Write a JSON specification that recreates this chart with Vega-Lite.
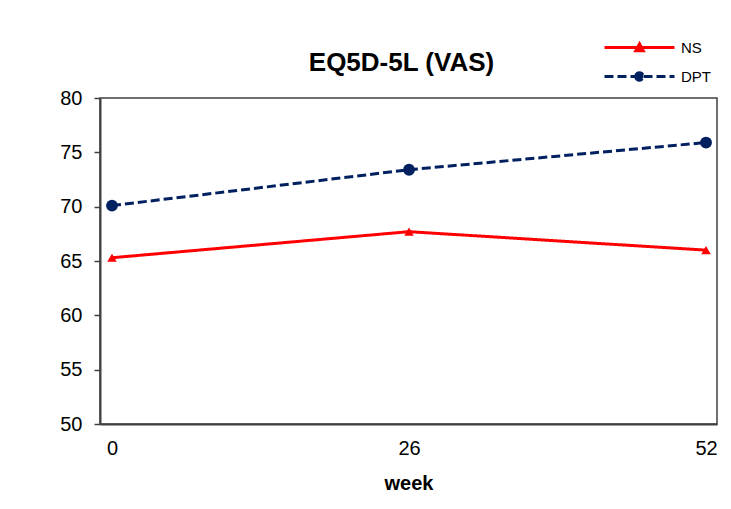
{
  "$schema": "https://vega.github.io/schema/vega-lite/v6.json",
  "width": 617,
  "height": 326,
  "autosize": "none",
  "padding": {"left": 100, "top": 98, "right": 14, "bottom": 85},
  "background": "white",
  "config": {
    "view": {"stroke": "#404040", "strokeWidth": 1.5},
    "font": "Liberation Sans"
  },
  "title": {
    "text": "EQ5D-5L (VAS)",
    "font": "Liberation Sans",
    "fontSize": 26,
    "fontWeight": "bold",
    "color": "black",
    "anchor": "middle",
    "frame": "group",
    "offset": -45,
    "dx": -7
  },
  "data": {
    "values": [
      {"week": 0, "series": "NS", "vas": 65.3},
      {"week": 26, "series": "NS", "vas": 67.7},
      {"week": 52, "series": "NS", "vas": 66.0},
      {"week": 0, "series": "DPT", "vas": 70.1},
      {"week": 26, "series": "DPT", "vas": 73.4},
      {"week": 52, "series": "DPT", "vas": 75.9}
    ]
  },
  "encoding": {
    "x": {
      "field": "week",
      "type": "quantitative",
      "scale": {"domain": [-1.05, 52.96], "nice": false, "zero": false},
      "axis": {
        "values": [0, 26, 52],
        "title": "week",
        "grid": false,
        "ticks": false,
        "domainColor": "#404040",
        "domainWidth": 2,
        "labelFont": "Liberation Sans",
        "labelFontSize": 20,
        "labelColor": "black",
        "labelPadding": 14,
        "titleFont": "Liberation Sans",
        "titleFontSize": 20,
        "titleFontWeight": "bold",
        "titleColor": "black",
        "titlePadding": 15
      }
    },
    "y": {
      "field": "vas",
      "type": "quantitative",
      "scale": {"domain": [50, 80], "nice": false, "zero": false},
      "axis": {
        "values": [50, 55, 60, 65, 70, 75, 80],
        "title": null,
        "grid": false,
        "tickSize": 6,
        "tickColor": "#404040",
        "tickWidth": 1.5,
        "domainColor": "#404040",
        "domainWidth": 2,
        "labelFont": "Liberation Sans",
        "labelFontSize": 20,
        "labelColor": "black",
        "labelPadding": 12
      }
    }
  },
  "layer": [
    {
      "mark": {"type": "line", "strokeWidth": 3},
      "encoding": {
        "color": {
          "field": "series",
          "type": "nominal",
          "scale": {"domain": ["NS", "DPT"], "range": ["#FF0000", "#002060"]},
          "legend": {
            "orient": "none",
            "legendX": 523,
            "legendY": -67,
            "title": null,
            "symbolType": "M-2.333,0L2.333,0",
            "symbolSize": 900,
            "symbolStrokeWidth": 3,
            "labelFont": "Liberation Sans",
            "labelFontSize": 15,
            "labelColor": "black",
            "labelOffset": 25,
            "rowPadding": 3,
            "encode": {
              "symbols": {
                "update": {
                  "shape": {"signal": "datum.value === 'NS' ? 'M-2.333,0L2.333,0M-0.25,0.22L0,-0.24L0.25,0.22Z' : 'M-2.333,0L2.333,0M-0.25,0A0.25,0.25 0 1,0 0.25,0A0.25,0.25 0 1,0 -0.25,0Z'"},
                  "fill": {"signal": "datum.value === 'NS' ? '#FF0000' : '#002060'"},
                  "stroke": {"signal": "datum.value === 'NS' ? '#FF0000' : '#002060'"},
                  "strokeDash": {"signal": "datum.value === 'NS' ? [1,0] : [8,4]"}
                }
              }
            }
          }
        },
        "strokeDash": {
          "field": "series",
          "type": "nominal",
          "scale": {"domain": ["NS", "DPT"], "range": [[1, 0], [9, 4]]},
          "legend": null
        }
      }
    },
    {
      "transform": [{"filter": "datum.series === 'NS'"}],
      "mark": {"type": "point", "filled": true, "opacity": 1, "shape": "triangle-up", "size": 90, "color": "#FF0000"},
      "encoding": {}
    },
    {
      "transform": [{"filter": "datum.series === 'DPT'"}],
      "mark": {"type": "point", "filled": true, "opacity": 1, "shape": "circle", "size": 140, "color": "#002060"},
      "encoding": {}
    }
  ]
}
